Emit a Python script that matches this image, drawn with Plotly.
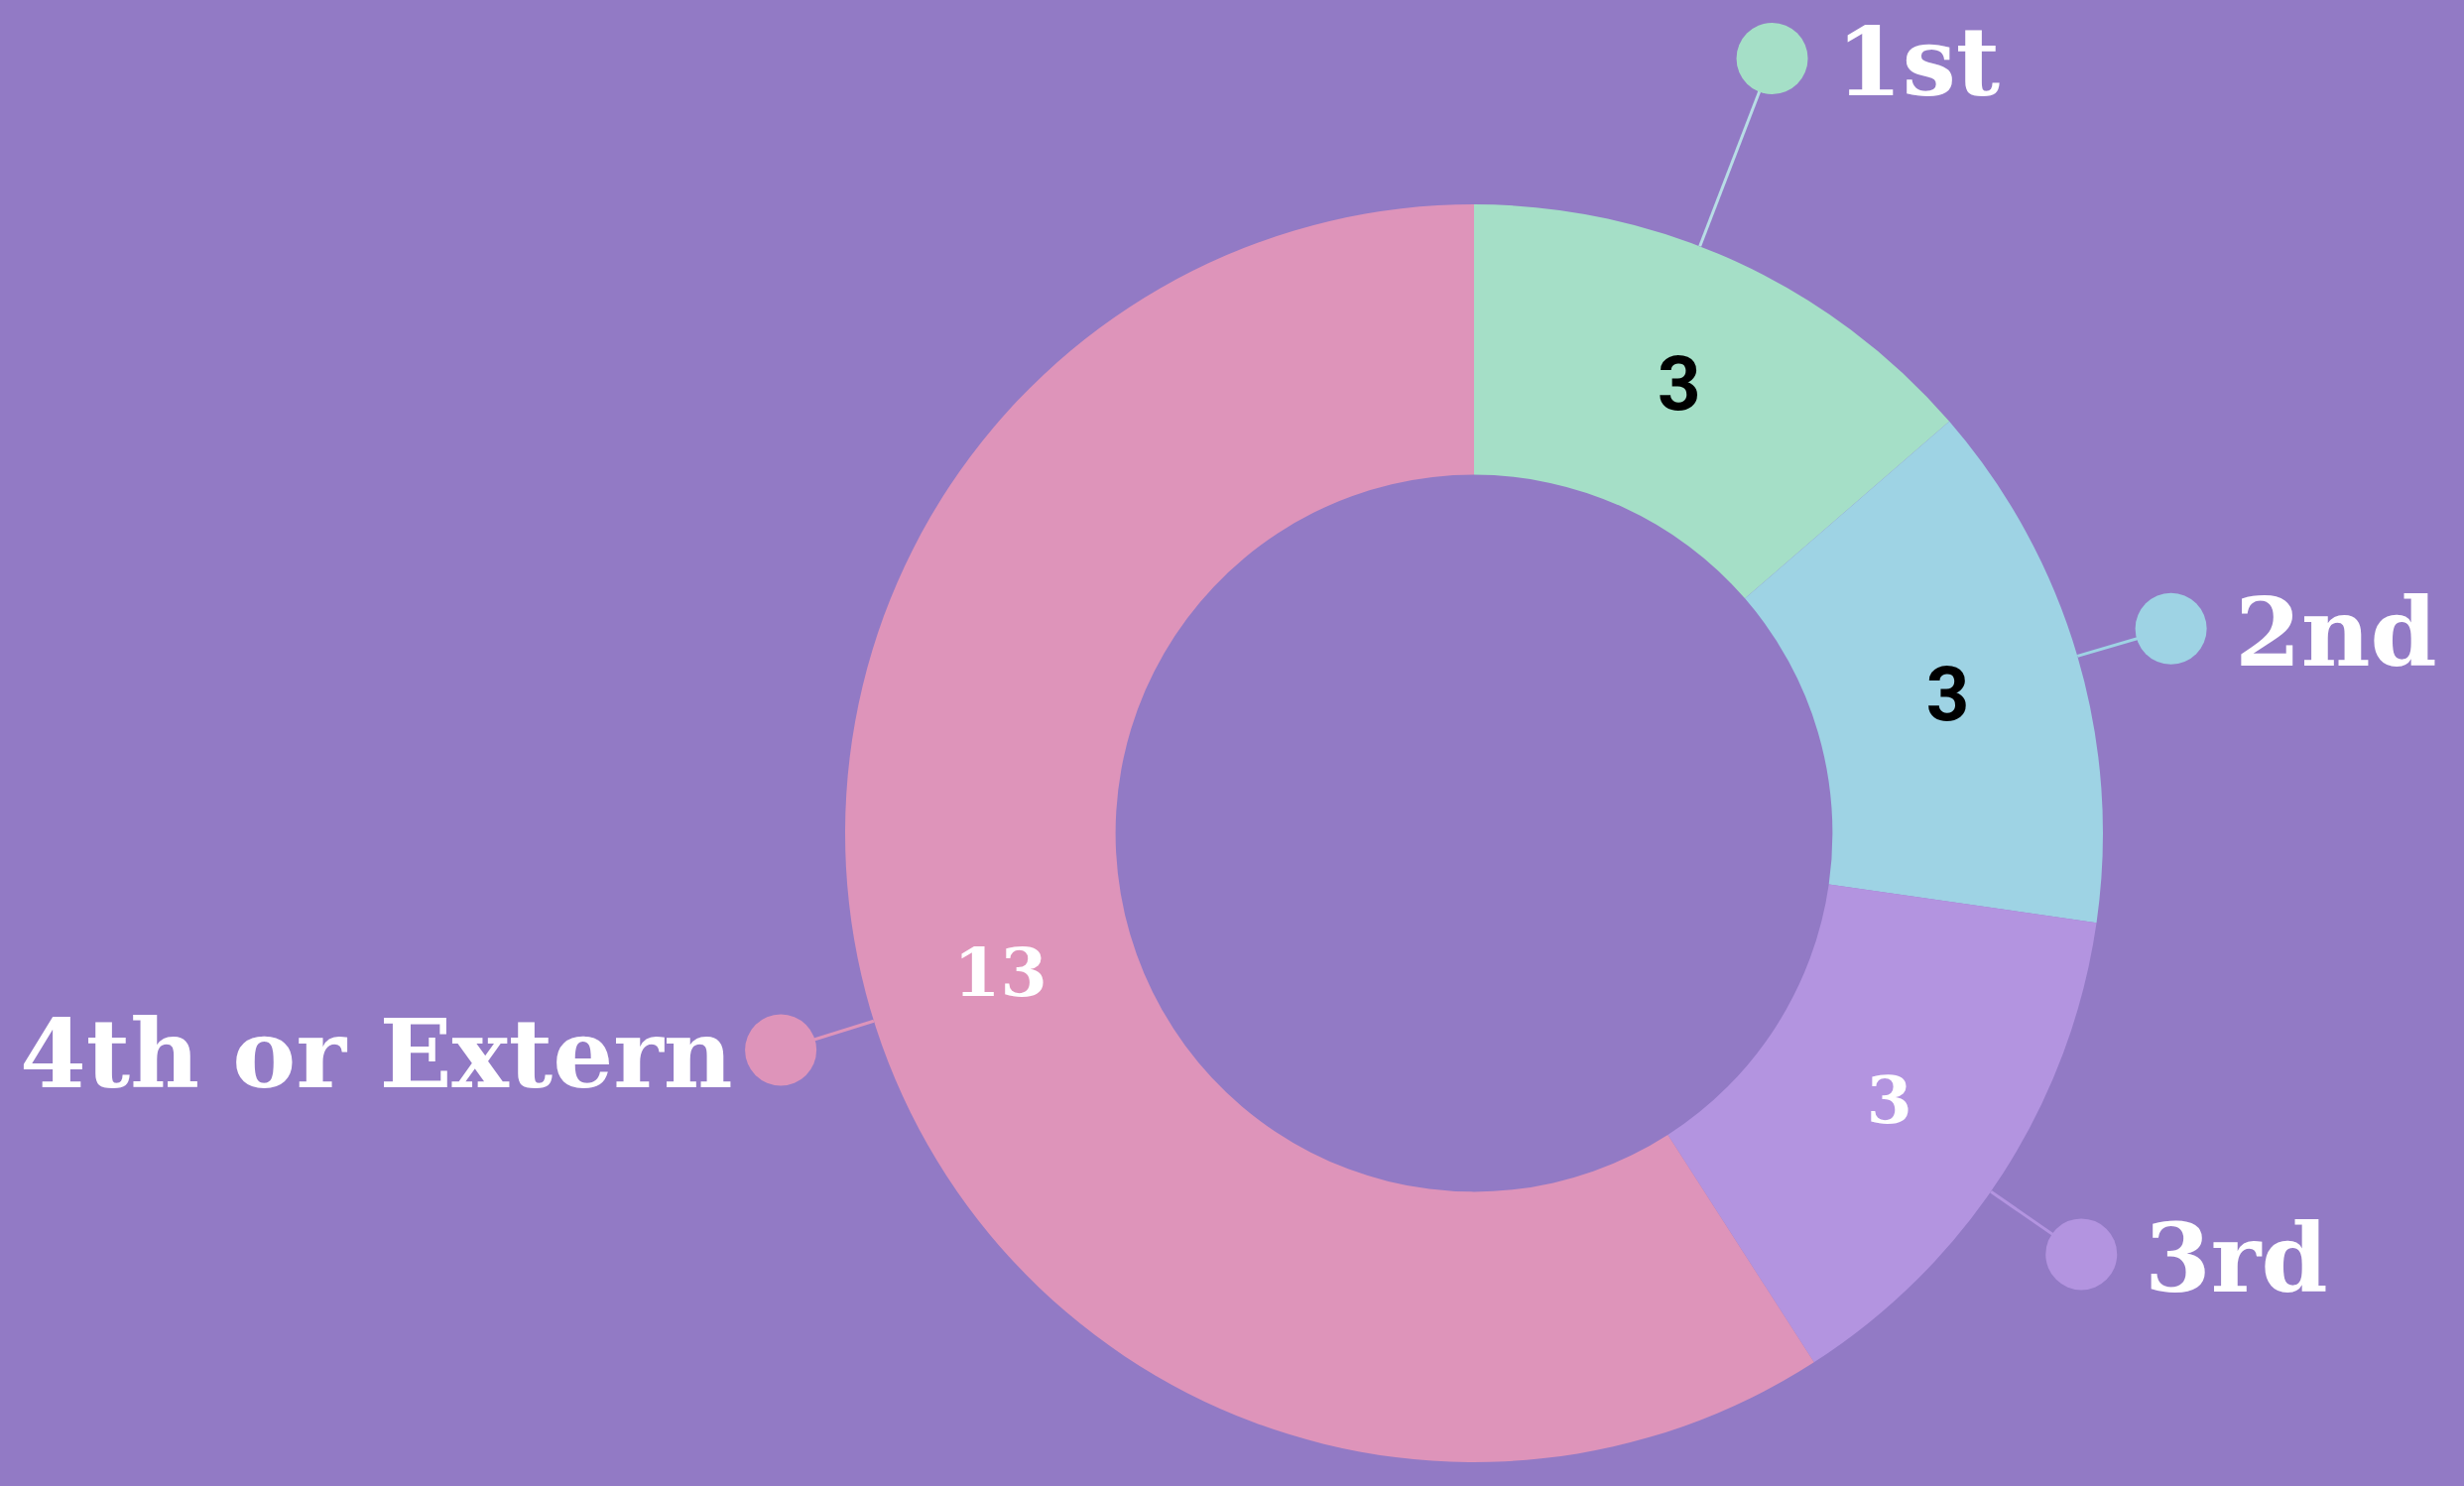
import math
import plotly.graph_objects as go

# ---- data ----
categories = ["1st", "2nd", "3rd", "4th or Extern"]
values = [3, 3, 3, 13]
slice_colors = ["#A5DFC7", "#9ED3E4", "#B394E0", "#DE94BA"]
inner_text_colors = ["#000000", "#000000", "#FFFFFF", "#FFFFFF"]

# ---- layout / style ----
W, H = 2484, 1498
BG = "#927AC5"
CX, CY, R = 1486, 840, 634          # donut centre and outer radius (px)
HOLE = 0.57
label_radius_factor = [1.32, 1.155, 1.175, 1.155]
label_angle_shift = [-3.5, 0.0, 2.0, -1.0]
line_colors = ["#B8DDE6", "#9ED3E4", "#B394E0", "#DE94BA"]
DOT_D = 72                            # connector dot diameter (px)
GAP_RIGHT = 26
GAP_LEFT = 10
LABEL_FONT = "DejaVu Serif"
LABEL_SIZE = 96

fig = go.Figure()

fig.add_trace(go.Pie(
    labels=categories,
    values=values,
    hole=HOLE,
    sort=False,
    direction="clockwise",
    rotation=0,
    marker=dict(colors=slice_colors, line=dict(width=0)),
    texttemplate="<b>%{value}</b>",
    textposition="inside",
    insidetextorientation="horizontal",
    textfont=dict(color=inner_text_colors,
                  family=["Roboto", "Roboto", LABEL_FONT, LABEL_FONT],
                  size=[76, 76, 66, 68]),
    domain=dict(x=[(CX - R) / W, (CX + R) / W],
                y=[(H - CY - R) / H, (H - CY + R) / H]),
    showlegend=False,
    hoverinfo="label+value",
))

total = sum(values)
cum = 0.0
annotations = []
for i, (cat, v) in enumerate(zip(categories, values)):
    mid = 360.0 * (cum + v / 2.0) / total + label_angle_shift[i]
    cum += v
    th = math.radians(mid)
    sx, sy = CX + R * math.sin(th), CY - R * math.cos(th)
    rr = R * label_radius_factor[i]
    ex, ey = CX + rr * math.sin(th), CY - rr * math.cos(th)
    fig.add_trace(go.Scatter(
        x=[sx, ex], y=[sy, ey], mode="lines",
        line=dict(color=line_colors[i], width=3),
        xaxis="x", yaxis="y", showlegend=False, hoverinfo="skip"))
    fig.add_trace(go.Scatter(
        x=[ex], y=[ey], mode="markers",
        marker=dict(size=DOT_D, color=slice_colors[i], line=dict(width=0)),
        xaxis="x", yaxis="y", showlegend=False, hoverinfo="skip"))
    right = math.sin(th) >= 0
    off = DOT_D / 2 + (GAP_RIGHT if right else GAP_LEFT)
    annotations.append(dict(
        x=ex + off * (1 if right else -1), y=ey + 4,
        xref="x", yref="y", text="<b>%s</b>" % cat, showarrow=False,
        xanchor="left" if right else "right", yanchor="middle",
        font=dict(family=LABEL_FONT, size=LABEL_SIZE, color="#FFFFFF")))

fig.update_layout(
    width=W, height=H,
    margin=dict(l=0, r=0, t=0, b=0),
    paper_bgcolor=BG, plot_bgcolor=BG,
    xaxis=dict(range=[0, W], domain=[0, 1], visible=False, fixedrange=True),
    yaxis=dict(range=[H, 0], domain=[0, 1], visible=False, fixedrange=True),
    annotations=annotations,
)

fig.write_html("out.html",
               config={"displayModeBar": False},
               post_script="document.body.style.margin='0';document.body.style.background='%s';" % BG)
